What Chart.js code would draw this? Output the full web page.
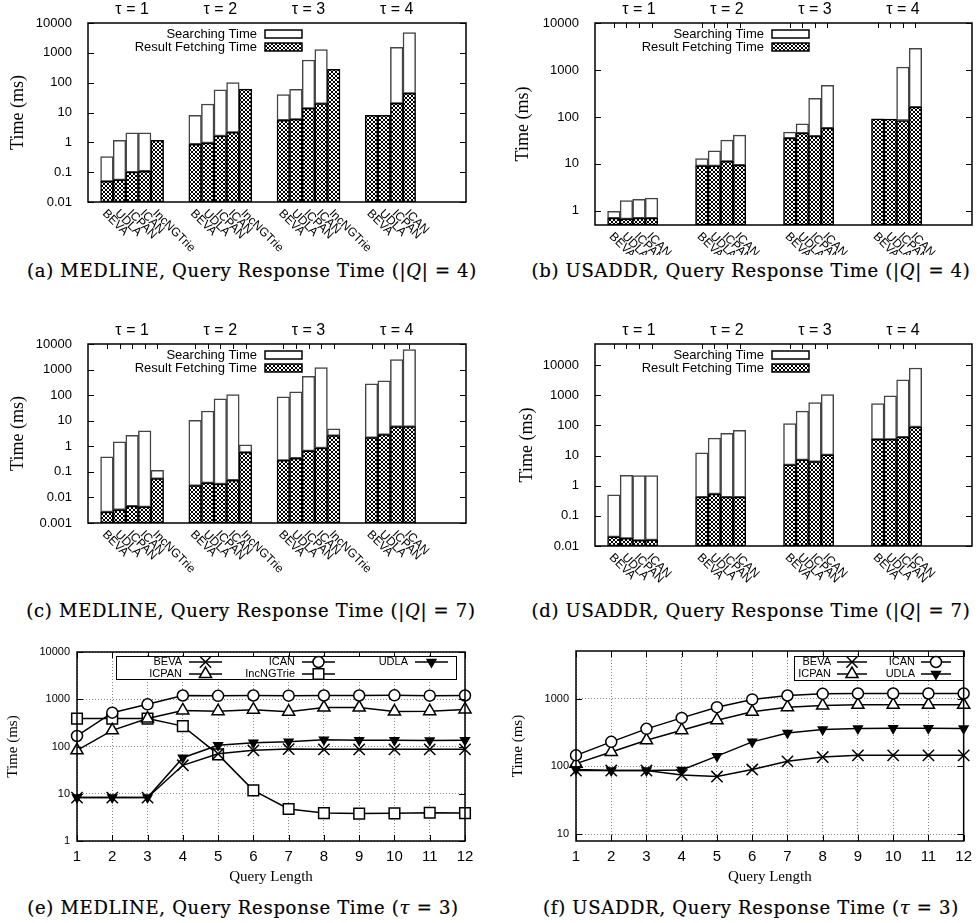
<!DOCTYPE html>
<html>
<head>
<meta charset="utf-8">
<script src="https://cdn.jsdelivr.net/npm/chart.js@4.4.1/dist/chart.umd.min.js"></script>
<style>
  body { margin: 0; background: #fff; width: 979px; height: 923px; position: relative; overflow: hidden; }
  canvas { position: absolute; }
  .cap { position: absolute; font-family: 'DejaVu Serif', serif; font-size: 18px; letter-spacing: 0.7px; -webkit-text-stroke: 0.2px #000;
         white-space: nowrap; transform: translate(-50%, -50%); color: #000; }
</style>
</head>
<body>
<canvas id="ca" width="490" height="255" style="left:0;top:0"></canvas>
<canvas id="cb" width="489" height="255" style="left:490px;top:0"></canvas>
<canvas id="cc" width="490" height="255" style="left:0;top:320px"></canvas>
<canvas id="cd" width="489" height="270" style="left:490px;top:320px"></canvas>
<canvas id="ce" width="490" height="262" style="left:0;top:630px"></canvas>
<canvas id="cf" width="489" height="262" style="left:490px;top:630px"></canvas>
<div class="cap" style="left:252px;top:270px">(a) MEDLINE, Query Response Time (|<i>Q</i>| = 4)</div>
<div class="cap" style="left:751px;top:270px">(b) USADDR, Query Response Time (|<i>Q</i>| = 4)</div>
<div class="cap" style="left:251px;top:610px">(c) MEDLINE, Query Response Time (|<i>Q</i>| = 7)</div>
<div class="cap" style="left:751px;top:610px">(d) USADDR, Query Response Time (|<i>Q</i>| = 7)</div>
<div class="cap" style="left:243px;top:907px">(e) MEDLINE, Query Response Time (<i>τ</i> = 3)</div>
<div class="cap" style="left:751px;top:907px">(f) USADDR, Query Response Time (<i>τ</i> = 3)</div>
<script>
// --- data ---
const methods5 = ['BEVA', 'UDLA', 'ICPAN', 'ICAN', 'IncNGTrie'];
const methods4 = ['BEVA', 'UDLA', 'ICPAN', 'ICAN'];
const tauLabels = ['τ = 1', 'τ = 2', 'τ = 3', 'τ = 4'];
const queryLengths = [1, 2, 3, 4, 5, 6, 7, 8, 9, 10, 11, 12];

// bar charts: top of each bar (searching + fetching) and the fetching part, per τ group
const medQ4Total = [[0.33, 1.17, 2.1, 2.1, 1.17], [8.0, 19.3, 57, 100, 61], [39.6, 60, 575, 1280, 280], [8.0, 8.0, 1530, 4740]];
const medQ4Fetch = [[0.049, 0.055, 0.10, 0.107, 1.17], [0.86, 0.95, 1.63, 2.16, 61], [5.5, 5.9, 13.8, 19.8, 280], [8.0, 8.0, 20.3, 44]];
const usaQ4Total = [[0.98, 1.66, 1.77, 1.86], [13, 19, 32, 41], [47.5, 71.5, 248, 468], [91, 90, 1150, 2890]];
const usaQ4Fetch = [[0.70, 0.675, 0.70, 0.70], [9.1, 9.1, 11.3, 9.4], [35.4, 45.2, 39, 57.8], [91, 90, 84, 162]];
const medQ7Total = [[0.39, 1.48, 2.7, 4.0, 0.115], [10.4, 24, 71, 105, 1.13], [85.5, 134, 550, 1200, 4.8], [276, 363, 2480, 6100]];
const medQ7Fetch = [[0.0027, 0.0033, 0.0046, 0.0043, 0.054], [0.029, 0.037, 0.0335, 0.047, 0.58], [0.28, 0.34, 0.66, 0.86, 2.6], [2.18, 2.86, 5.9, 5.9]];
const usaQ7Total = [[0.50, 2.2, 2.15, 2.15], [12.3, 38, 54, 68], [114, 296, 574, 1060], [531, 956, 3270, 8020]];
const usaQ7Fetch = [[0.020, 0.018, 0.0154, 0.0158], [0.42, 0.53, 0.42, 0.42], [4.9, 7.2, 6.3, 10.5], [34.3, 34.3, 41, 88.5]];

const ticksMedQ4 = [0.01, 0.1, 1, 10, 100, 1000, 10000];
const ticksUsaQ4 = [1, 10, 100, 1000, 10000];
const ticksMedQ7 = [0.001, 0.01, 0.1, 1, 10, 100, 1000, 10000];
const ticksUsaQ7 = [0.01, 0.1, 1, 10, 100, 1000, 10000];

// line charts, τ = 3
const medBEVA = [8.3, 8.3, 8.3, 40, 70, 83, 88, 87, 87, 87, 87, 87];
const medICAN = [167, 520, 780, 1200, 1180, 1200, 1190, 1200, 1200, 1210, 1190, 1200];
const medUDLA = [8.3, 8.3, 8.3, 58, 106, 120, 126, 139, 135, 135, 134, 135];
const medICPAN = [83, 220, 390, 580, 560, 600, 545, 665, 665, 550, 560, 610];
const medIncNGTrie = [390, 390, 390, 270, 68, 11.8, 4.75, 3.9, 3.8, 3.85, 3.97, 3.9];
const usaBEVA = [87, 87, 87, 75, 71, 90, 119, 138, 146, 146, 146, 146];
const usaICAN = [146, 231, 360, 523, 753, 980, 1120, 1187, 1200, 1200, 1200, 1200];
const usaUDLA = [90, 87, 87, 89, 142, 231, 313, 351, 363, 367, 367, 363];
const usaICPAN = [110, 164, 244, 344, 483, 642, 753, 796, 815, 815, 815, 815];
const ticksMedLine = [1, 10, 100, 1000, 10000];
const ticksUsaLine = [10, 100, 1000];

// --- looks ---
Chart.defaults.font.family = '"Liberation Sans", Arial, sans-serif';
Chart.defaults.color = '#000';

const SANS = '"Liberation Sans", Arial, sans-serif';
const SERIF = '"Liberation Serif", "Times New Roman", serif';

const markerStyle = {
  BEVA: { shape: 'crossRot', r: 8, bg: '#000' },
  ICAN: { shape: 'circle', r: 5.5, bg: '#fff' },
  UDLA: { shape: 'triangle', r: 5, bg: '#000', rot: 180 },
  ICPAN: { shape: 'triangle', r: 7, bg: '#fff' },
  IncNGTrie: { shape: 'rect', r: 7.5, bg: '#fff' }
};

// crosshatch fill for the result fetching part (pixel tile, 4px period)
const hatch = (() => {
  const c = document.createElement('canvas');
  c.width = 4; c.height = 4;
  const g = c.getContext('2d');
  const img = g.createImageData(4, 4);
  for (let j = 0; j < 4; j++) {
    for (let i = 0; i < 4; i++) {
      const dark = i === j || i + j === 3;
      const p = (j * 4 + i) * 4;
      const v = dark ? 0 : 255;
      img.data[p] = v; img.data[p + 1] = v; img.data[p + 2] = v; img.data[p + 3] = 255;
    }
  }
  g.putImageData(img, 0, 0);
  return g.createPattern(c, 'repeat');
})();

function frame(ctx, a) {
  ctx.lineWidth = 1.5;
  ctx.strokeStyle = '#000';
  ctx.strokeRect(a.left, a.top, a.right - a.left, a.bottom - a.top);
}

function yTickMarks(ctx, chart) {
  const y = chart.scales.y, a = chart.chartArea;
  ctx.lineWidth = 1;
  ctx.beginPath();
  y.ticks.forEach(t => {
    const p = Math.round(y.getPixelForValue(t.value)) + 0.5;
    ctx.moveTo(a.left, p); ctx.lineTo(a.left + 6, p);
    ctx.moveTo(a.right, p); ctx.lineTo(a.right - 6, p);
  });
  ctx.stroke();
}

// frame, slanted method names, τ headers and key for the bar panels
function barDeco(spans, topTicks) {
  return {
    id: 'gnu',
    afterDraw(chart) {
      const ctx = chart.ctx, a = chart.chartArea, x = chart.scales.x;
      ctx.save();
      frame(ctx, a);
      yTickMarks(ctx, chart);
      if (topTicks) {
        ctx.lineWidth = 1;
        ctx.beginPath();
        chart.data.labels.forEach((lab, i) => {
          if (!lab) return;
          const p = Math.round(x.getPixelForValue(i)) + 0.5;
          ctx.moveTo(p, a.top); ctx.lineTo(p, a.top + 5);
        });
        ctx.stroke();
      }
      ctx.fillStyle = '#000';
      ctx.font = '12px ' + SANS;
      ctx.textAlign = 'left';
      ctx.textBaseline = 'alphabetic';
      chart.data.labels.forEach((lab, i) => {
        if (!lab) return;
        const px = x.getPixelForValue(i);
        ctx.save();
        ctx.translate(px - 5, a.bottom + 12);
        ctx.rotate(Math.PI / 4);
        ctx.fillText(lab, 0, 0);
        ctx.restore();
      });
      ctx.font = '16px ' + SANS;
      ctx.textAlign = 'center';
      ctx.textBaseline = 'middle';
      spans.forEach((s, g) => ctx.fillText(tauLabels[g], x.getPixelForValue(s[0] + 2), a.top - 13));
      ctx.font = '13px ' + SANS;
      ctx.textAlign = 'right';
      [['Searching Time', '#fff'], ['Result Fetching Time', hatch]].forEach(([t, fill], k) => {
        const yy = a.top + 11 + 13 * k;
        ctx.fillStyle = '#000';
        ctx.fillText(t, a.left + 169, yy);
        ctx.fillStyle = fill;
        ctx.fillRect(a.left + 177, yy - 4, 37, 8);
        ctx.lineWidth = 1.5;
        ctx.strokeRect(a.left + 177, yy - 4, 37, 8);
      });
      ctx.restore();
    }
  };
}

function barChart(id, groups, totals, fetches, o) {
  const n = 30;
  const labels = Array(n).fill('');
  const search = Array(n).fill(null);
  const fetch = Array(n).fill(null);
  const spans = [];
  groups.forEach((ms, g) => {
    const s = 1 + 7 * g;
    ms.forEach((m, i) => {
      labels[s + i] = m;
      search[s + i] = [fetches[g][i], totals[g][i]];
      fetch[s + i] = fetches[g][i];
    });
    spans.push([s, s + ms.length - 1]);
  });
  return new Chart(document.getElementById(id), {
    type: 'bar',
    data: {
      labels,
      datasets: [
        { label: 'Result Fetching Time', data: fetch, backgroundColor: hatch, borderColor: '#000', borderWidth: 1.5,
          borderSkipped: false, grouped: false, categoryPercentage: 1, barPercentage: 1 },
        { label: 'Searching Time', data: search, backgroundColor: '#fff', borderColor: '#444', borderWidth: 1.5,
          borderSkipped: false, grouped: false, categoryPercentage: 1, barPercentage: 1 }
      ]
    },
    options: {
      responsive: false,
      animation: false,
      events: [],
      layout: { padding: o.pad },
      scales: {
        x: { display: false },
        y: {
          type: 'logarithmic',
          min: o.min,
          max: o.max,
          afterBuildTicks: s => { s.ticks = o.ticks.map(v => ({ value: v })); },
          afterFit: s => { s.width = o.yw; },
          grid: { display: false },
          border: { display: false },
          ticks: { font: { size: 13 }, color: '#000', padding: 8, autoSkip: false, callback: v => String(v) },
          title: { display: true, text: 'Time (ms)', color: '#000', font: { family: SERIF, size: 18 }, padding: { top: o.tp, bottom: 0 } }
        }
      },
      plugins: { legend: { display: false }, tooltip: { enabled: false } }
    },
    plugins: [barDeco(spans, o.topTicks)]
  });
}

function marker(ctx, st, x, y) {
  ctx.lineWidth = 1.5;
  ctx.strokeStyle = '#000';
  ctx.fillStyle = st.bg;
  Chart.helpers.drawPoint(ctx, { pointStyle: st.shape, radius: st.r, rotation: st.rot || 0, borderWidth: 1.5 }, x, y);
}

// frame, inward ticks and the boxed key for the line panels
function lineDeco(key) {
  return {
    id: 'gnu',
    afterDraw(chart) {
      const ctx = chart.ctx, a = chart.chartArea, x = chart.scales.x;
      ctx.save();
      yTickMarks(ctx, chart);
      ctx.beginPath();
      x.ticks.forEach((t, i) => {
        const p = Math.round(x.getPixelForTick(i)) + 0.5;
        ctx.moveTo(p, a.bottom); ctx.lineTo(p, a.bottom - 6);
        ctx.moveTo(p, a.top); ctx.lineTo(p, a.top + 6);
      });
      ctx.stroke();
      const [x1, y1, x2, y2] = key.box;
      ctx.fillStyle = '#fff';
      ctx.fillRect(a.left + x1, a.top + y1, x2 - x1, y2 - y1);
      ctx.lineWidth = 1;
      ctx.strokeStyle = '#000';
      ctx.strokeRect(a.left + x1 + 0.5, a.top + y1 + 0.5, x2 - x1, y2 - y1);
      ctx.font = '11px ' + SANS;
      ctx.textAlign = 'right';
      ctx.textBaseline = 'middle';
      key.items.forEach(([name, col, row]) => {
        const tx = a.left + key.cols[col], ty = a.top + key.rows[row];
        ctx.fillStyle = '#000';
        ctx.fillText(name, tx, ty);
        ctx.lineWidth = 1.5;
        ctx.beginPath();
        ctx.moveTo(tx + key.gap, ty); ctx.lineTo(tx + key.gap + key.len, ty);
        ctx.stroke();
        marker(ctx, markerStyle[name], tx + key.gap + key.len / 2, ty);
      });
      frame(ctx, a);
      ctx.restore();
    }
  };
}

function lineChart(id, names, values, o) {
  return new Chart(document.getElementById(id), {
    type: 'line',
    data: {
      labels: queryLengths,
      datasets: names.map((nm, k) => {
        const st = markerStyle[nm];
        return {
          label: nm, data: values[k], borderColor: '#000', borderWidth: 1.5, tension: 0, fill: false,
          pointStyle: st.shape, pointRadius: st.r, pointRotation: st.rot || 0,
          pointBackgroundColor: st.bg, pointBorderColor: '#000', pointBorderWidth: 1.5
        };
      })
    },
    options: {
      responsive: false,
      animation: false,
      events: [],
      layout: { padding: o.pad },
      scales: {
        x: {
          type: 'category',
          offset: false,
          afterFit: s => { s.height = 51; },
          grid: { color: '#666', lineWidth: 0.8, drawTicks: false, borderDash: [1, 2] },
          border: { display: false, dash: [1, 2] },
          ticks: { font: { size: 15 }, color: '#000', padding: 7, maxRotation: 0, autoSkip: false },
          title: { display: true, text: 'Query Length', color: '#000', font: { family: SERIF, size: 15 }, padding: { top: 0, bottom: 6 } }
        },
        y: {
          type: 'logarithmic',
          min: o.min,
          max: o.max,
          afterBuildTicks: s => { s.ticks = o.ticks.map(v => ({ value: v })); },
          afterFit: s => { s.width = o.yw; },
          grid: { color: '#666', lineWidth: 0.8, drawTicks: false, borderDash: [1, 2] },
          border: { display: false, dash: [1, 2] },
          ticks: { font: { size: 11 }, color: '#000', padding: 7, autoSkip: false, callback: v => String(v) },
          title: { display: true, text: 'Time (ms)', color: '#000', font: { family: SERIF, size: 15 }, padding: { top: o.tp, bottom: 0 } }
        }
      },
      plugins: { legend: { display: false }, tooltip: { enabled: false } }
    },
    plugins: [lineDeco(o.key)]
  });
}

const medGroups = [methods5, methods5, methods5, methods4];
const usaGroups = [methods4, methods4, methods4, methods4];

barChart('ca', medGroups, medQ4Total, medQ4Fetch,
  { min: 0.01, max: 10000, ticks: ticksMedQ4, yw: 88, tp: 7, topTicks: false, pad: { top: 23, right: 24, bottom: 53, left: 0 } });
barChart('cb', usaGroups, usaQ4Total, usaQ4Fetch,
  { min: 0.5, max: 10000, ticks: ticksUsaQ4, yw: 105, tp: 22, topTicks: true, pad: { top: 23, right: 7, bottom: 30, left: 0 } });
barChart('cc', medGroups, medQ7Total, medQ7Fetch,
  { min: 0.001, max: 10000, ticks: ticksMedQ7, yw: 88, tp: 7, topTicks: true, pad: { top: 24, right: 24, bottom: 52, left: 0 } });
barChart('cd', usaGroups, usaQ7Total, usaQ7Fetch,
  { min: 0.01, max: 50000, ticks: ticksUsaQ7, yw: 105, tp: 26, topTicks: true, pad: { top: 24, right: 7, bottom: 44, left: 0 } });

lineChart('ce', ['BEVA', 'ICAN', 'UDLA', 'ICPAN', 'IncNGTrie'], [medBEVA, medICAN, medUDLA, medICPAN, medIncNGTrie], {
  min: 1, max: 10000, ticks: ticksMedLine, yw: 77, tp: 4, pad: { top: 22, right: 25, bottom: 0, left: 0 },
  key: { box: [39, 4, 379, 27], rows: [10, 22], cols: [105, 218, 331], gap: 7, len: 33,
         items: [['BEVA', 0, 0], ['ICAN', 1, 0], ['UDLA', 2, 0], ['ICPAN', 0, 1], ['IncNGTrie', 1, 1]] }
});
lineChart('cf', ['BEVA', 'ICAN', 'UDLA', 'ICPAN'], [usaBEVA, usaICAN, usaUDLA, usaICPAN], {
  min: 7.9, max: 5100, ticks: ticksUsaLine, yw: 86, tp: 19, pad: { top: 21, right: 8, bottom: 0, left: 0 },
  key: { box: [218, 5, 387, 29], rows: [11, 23], cols: [255, 339], gap: 6, len: 30,
         items: [['BEVA', 0, 0], ['ICAN', 1, 0], ['ICPAN', 0, 1], ['UDLA', 1, 1]] }
});
</script>
</body>
</html>
